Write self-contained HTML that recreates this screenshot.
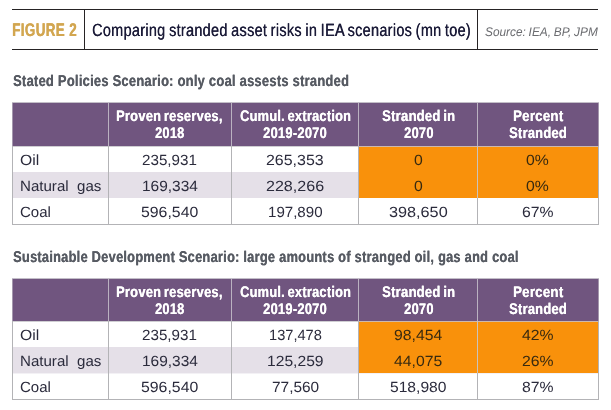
<!DOCTYPE html>
<html><head><meta charset='utf-8'><title>Figure 2</title><style>
html,body{margin:0;padding:0;background:#fff}
body{width:611px;height:410px;position:relative;overflow:hidden;font-family:"Liberation Sans",sans-serif}
.t{position:absolute;white-space:pre;line-height:20px;height:20px;transform-origin:0 0;display:block;text-rendering:geometricPrecision}
.b{position:absolute}
</style></head><body>
<div class='b' style='left:12px;top:9px;width:586px;height:1px;background:#262324'></div>
<div class='b' style='left:12px;top:49px;width:586px;height:1px;background:#262324'></div>
<div class='b' style='left:84px;top:9px;width:1px;height:41px;background:#262324'></div>
<div class='b' style='left:477px;top:9px;width:1px;height:41px;background:#262324'></div>
<div class='b' style='left:12px;top:102px;width:587px;height:123px;background:#b3b3b6'></div>
<div class='b' style='left:13px;top:103px;width:585px;height:121px;background:#fff'></div>
<div class='b' style='left:12px;top:102px;width:587px;height:1px;background:#c3bec8'></div>
<div class='b' style='left:13px;top:103px;width:586px;height:43px;background:#70557f'></div>
<div class='b' style='left:12px;top:103px;width:1px;height:43px;background:#a497ad'></div>
<div class='b' style='left:598px;top:103px;width:1px;height:43px;background:#a497ad'></div>
<div class='b' style='left:13px;top:146px;width:585px;height:1px;background:#cfced2'></div>
<div class='b' style='left:13px;top:172px;width:585px;height:26px;background:#e5e0e8'></div>
<div class='b' style='left:359px;top:146px;width:239px;height:52px;background:#f9910b'></div>
<div class='b' style='left:359px;top:146px;width:239px;height:1px;background:#cdb9ad'></div>
<div class='b' style='left:108px;top:103px;width:1px;height:43px;background:#bbb2c1'></div>
<div class='b' style='left:108px;top:146px;width:1px;height:78px;background:#b3b3b6'></div>
<div class='b' style='left:231px;top:103px;width:1px;height:43px;background:#bbb2c1'></div>
<div class='b' style='left:231px;top:146px;width:1px;height:78px;background:#b3b3b6'></div>
<div class='b' style='left:358px;top:103px;width:1px;height:43px;background:#bbb2c1'></div>
<div class='b' style='left:358px;top:146px;width:1px;height:78px;background:#b3b3b6'></div>
<div class='b' style='left:477px;top:103px;width:1px;height:43px;background:#bbb2c1'></div>
<div class='b' style='left:477px;top:146px;width:1px;height:78px;background:#b3b3b6'></div>
<div class='b' style='left:477px;top:146px;width:1px;height:52px;background:#cbc3bb'></div>
<div class='b' style='left:12px;top:278px;width:587px;height:122px;background:#b3b3b6'></div>
<div class='b' style='left:13px;top:279px;width:585px;height:120px;background:#fff'></div>
<div class='b' style='left:12px;top:278px;width:587px;height:1px;background:#c3bec8'></div>
<div class='b' style='left:13px;top:279px;width:586px;height:42px;background:#70557f'></div>
<div class='b' style='left:12px;top:279px;width:1px;height:42px;background:#a497ad'></div>
<div class='b' style='left:598px;top:279px;width:1px;height:42px;background:#a497ad'></div>
<div class='b' style='left:13px;top:321px;width:585px;height:1px;background:#cfced2'></div>
<div class='b' style='left:13px;top:347px;width:585px;height:26px;background:#e5e0e8'></div>
<div class='b' style='left:13px;top:373px;width:585px;height:1px;background:#f3f1f5'></div>
<div class='b' style='left:359px;top:321px;width:239px;height:52px;background:#f9910b'></div>
<div class='b' style='left:359px;top:321px;width:239px;height:1px;background:#cdb9ad'></div>
<div class='b' style='left:108px;top:279px;width:1px;height:42px;background:#bbb2c1'></div>
<div class='b' style='left:108px;top:321px;width:1px;height:78px;background:#b3b3b6'></div>
<div class='b' style='left:231px;top:279px;width:1px;height:42px;background:#bbb2c1'></div>
<div class='b' style='left:231px;top:321px;width:1px;height:78px;background:#b3b3b6'></div>
<div class='b' style='left:358px;top:279px;width:1px;height:42px;background:#bbb2c1'></div>
<div class='b' style='left:358px;top:321px;width:1px;height:78px;background:#b3b3b6'></div>
<div class='b' style='left:477px;top:279px;width:1px;height:42px;background:#bbb2c1'></div>
<div class='b' style='left:477px;top:321px;width:1px;height:78px;background:#b3b3b6'></div>
<div class='b' style='left:477px;top:321px;width:1px;height:52px;background:#cbc3bb'></div>
<span class='t' style="left:12.27px;top:20.00px;font-size:18.4px;font-weight:700;font-style:normal;color:#d2a650;letter-spacing:0.55px;text-shadow:0.55px 0 0 #d2a650;transform:scaleX(0.7269)">FIGURE 2</span>
<span class='t' style="left:91.58px;top:20.00px;font-size:17.7px;font-weight:400;font-style:normal;color:#1b1b38;letter-spacing:0.35px;text-shadow:0.35px 0 0 #1b1b38;word-spacing:-1.0px;transform:scaleX(0.8187)">Comparing stranded asset risks in IEA scenarios (mn toe)</span>
<span class='t' style="left:484.93px;top:22.00px;font-size:12.5px;font-weight:400;font-style:italic;color:#6b6c70;word-spacing:-0.6px;transform:scaleX(0.9488)">Source: IEA, BP, JPM</span>
<span class='t' style="left:12.88px;top:72.00px;font-size:15.6px;font-weight:700;font-style:normal;color:#575b63;letter-spacing:0.30px;text-shadow:0.30px 0 0 #575b63;transform:scaleX(0.8285)">Stated Policies Scenario: only coal assests stranded</span>
<span class='t' style="left:12.88px;top:248.00px;font-size:15.6px;font-weight:700;font-style:normal;color:#575b63;letter-spacing:0.30px;text-shadow:0.30px 0 0 #575b63;transform:scaleX(0.8234)">Sustainable Development Scenario: large amounts of stranged oil, gas and coal</span>
<span class='t' style="left:115.76px;top:107.00px;font-size:15.4px;font-weight:700;font-style:normal;color:#fff;letter-spacing:0.30px;text-shadow:0.30px 0 0 #fff;word-spacing:-1.5px;transform:scaleX(0.8367)">Proven reserves,</span>
<span class='t' style="left:155.09px;top:124.00px;font-size:15.4px;font-weight:700;font-style:normal;color:#fff;letter-spacing:0.30px;text-shadow:0.30px 0 0 #fff;word-spacing:-1.5px;transform:scaleX(0.8290)">2018</span>
<span class='t' style="left:240.18px;top:107.00px;font-size:15.4px;font-weight:700;font-style:normal;color:#fff;letter-spacing:0.30px;text-shadow:0.30px 0 0 #fff;word-spacing:-1.5px;transform:scaleX(0.8318)">Cumul. extraction</span>
<span class='t' style="left:262.98px;top:124.00px;font-size:15.4px;font-weight:700;font-style:normal;color:#fff;letter-spacing:0.30px;text-shadow:0.30px 0 0 #fff;word-spacing:-1.5px;transform:scaleX(0.8372)">2019-2070</span>
<span class='t' style="left:381.98px;top:107.00px;font-size:15.4px;font-weight:700;font-style:normal;color:#fff;letter-spacing:0.30px;text-shadow:0.30px 0 0 #fff;word-spacing:-1.5px;transform:scaleX(0.8471)">Stranded in</span>
<span class='t' style="left:403.58px;top:124.00px;font-size:15.4px;font-weight:700;font-style:normal;color:#fff;letter-spacing:0.30px;text-shadow:0.30px 0 0 #fff;word-spacing:-1.5px;transform:scaleX(0.8348)">2070</span>
<span class='t' style="left:512.74px;top:107.00px;font-size:15.4px;font-weight:700;font-style:normal;color:#fff;letter-spacing:0.30px;text-shadow:0.30px 0 0 #fff;word-spacing:-1.5px;transform:scaleX(0.8591)">Percent</span>
<span class='t' style="left:509.18px;top:124.00px;font-size:15.4px;font-weight:700;font-style:normal;color:#fff;letter-spacing:0.30px;text-shadow:0.30px 0 0 #fff;word-spacing:-1.5px;transform:scaleX(0.8384)">Stranded</span>
<span class='t' style="left:20.27px;top:151.00px;font-size:14.8px;font-weight:400;font-style:normal;color:#2b2b3c;transform:scaleX(1.0627)">Oil</span>
<span class='t' style="left:141.59px;top:151.00px;font-size:14.8px;font-weight:400;font-style:normal;color:#2b2b3c;transform:scaleX(1.0267)">235,931</span>
<span class='t' style="left:265.86px;top:151.00px;font-size:14.8px;font-weight:400;font-style:normal;color:#2b2b3c;transform:scaleX(1.0781)">265,353</span>
<span class='t' style="left:413.92px;top:151.00px;font-size:14.8px;font-weight:400;font-style:normal;color:#382a10;transform:scaleX(1.0650)">0</span>
<span class='t' style="left:526.11px;top:151.00px;font-size:14.8px;font-weight:400;font-style:normal;color:#382a10;transform:scaleX(1.0650)">0%</span>
<span class='t' style="left:19.78px;top:177.00px;font-size:14.8px;font-weight:400;font-style:normal;color:#2b2b3c;transform:scaleX(1.0198)">Natural  gas</span>
<span class='t' style="left:142.26px;top:177.00px;font-size:14.8px;font-weight:400;font-style:normal;color:#2b2b3c;transform:scaleX(1.0450)">169,334</span>
<span class='t' style="left:265.86px;top:177.00px;font-size:14.8px;font-weight:400;font-style:normal;color:#2b2b3c;transform:scaleX(1.0857)">228,266</span>
<span class='t' style="left:413.92px;top:177.00px;font-size:14.8px;font-weight:400;font-style:normal;color:#382a10;transform:scaleX(1.0650)">0</span>
<span class='t' style="left:526.11px;top:177.00px;font-size:14.8px;font-weight:400;font-style:normal;color:#382a10;transform:scaleX(1.0650)">0%</span>
<span class='t' style="left:20.04px;top:203.00px;font-size:14.8px;font-weight:400;font-style:normal;color:#2b2b3c;transform:scaleX(1.0157)">Coal</span>
<span class='t' style="left:141.46px;top:203.00px;font-size:14.8px;font-weight:400;font-style:normal;color:#2b2b3c;transform:scaleX(1.0705)">596,540</span>
<span class='t' style="left:267.98px;top:203.00px;font-size:14.8px;font-weight:400;font-style:normal;color:#2b2b3c;transform:scaleX(1.0192)">197,890</span>
<span class='t' style="left:388.85px;top:203.00px;font-size:14.8px;font-weight:400;font-style:normal;color:#2b2b3c;transform:scaleX(1.0971)">398,650</span>
<span class='t' style="left:521.72px;top:203.00px;font-size:14.8px;font-weight:400;font-style:normal;color:#2b2b3c;transform:scaleX(1.0650)">67%</span>
<span class='t' style="left:115.76px;top:283.00px;font-size:15.4px;font-weight:700;font-style:normal;color:#fff;letter-spacing:0.30px;text-shadow:0.30px 0 0 #fff;word-spacing:-1.5px;transform:scaleX(0.8367)">Proven reserves,</span>
<span class='t' style="left:155.09px;top:300.00px;font-size:15.4px;font-weight:700;font-style:normal;color:#fff;letter-spacing:0.30px;text-shadow:0.30px 0 0 #fff;word-spacing:-1.5px;transform:scaleX(0.8290)">2018</span>
<span class='t' style="left:240.18px;top:283.00px;font-size:15.4px;font-weight:700;font-style:normal;color:#fff;letter-spacing:0.30px;text-shadow:0.30px 0 0 #fff;word-spacing:-1.5px;transform:scaleX(0.8318)">Cumul. extraction</span>
<span class='t' style="left:262.98px;top:300.00px;font-size:15.4px;font-weight:700;font-style:normal;color:#fff;letter-spacing:0.30px;text-shadow:0.30px 0 0 #fff;word-spacing:-1.5px;transform:scaleX(0.8372)">2019-2070</span>
<span class='t' style="left:381.98px;top:283.00px;font-size:15.4px;font-weight:700;font-style:normal;color:#fff;letter-spacing:0.30px;text-shadow:0.30px 0 0 #fff;word-spacing:-1.5px;transform:scaleX(0.8471)">Stranded in</span>
<span class='t' style="left:403.58px;top:300.00px;font-size:15.4px;font-weight:700;font-style:normal;color:#fff;letter-spacing:0.30px;text-shadow:0.30px 0 0 #fff;word-spacing:-1.5px;transform:scaleX(0.8348)">2070</span>
<span class='t' style="left:512.74px;top:283.00px;font-size:15.4px;font-weight:700;font-style:normal;color:#fff;letter-spacing:0.30px;text-shadow:0.30px 0 0 #fff;word-spacing:-1.5px;transform:scaleX(0.8591)">Percent</span>
<span class='t' style="left:509.18px;top:300.00px;font-size:15.4px;font-weight:700;font-style:normal;color:#fff;letter-spacing:0.30px;text-shadow:0.30px 0 0 #fff;word-spacing:-1.5px;transform:scaleX(0.8384)">Stranded</span>
<span class='t' style="left:20.27px;top:326.00px;font-size:14.8px;font-weight:400;font-style:normal;color:#2b2b3c;transform:scaleX(1.0627)">Oil</span>
<span class='t' style="left:141.59px;top:326.00px;font-size:14.8px;font-weight:400;font-style:normal;color:#2b2b3c;transform:scaleX(1.0267)">235,931</span>
<span class='t' style="left:268.61px;top:326.00px;font-size:14.8px;font-weight:400;font-style:normal;color:#2b2b3c;transform:scaleX(0.9885)">137,478</span>
<span class='t' style="left:394.07px;top:326.00px;font-size:14.8px;font-weight:400;font-style:normal;color:#382a10;transform:scaleX(1.0652)">98,454</span>
<span class='t' style="left:521.72px;top:326.00px;font-size:14.8px;font-weight:400;font-style:normal;color:#382a10;transform:scaleX(1.0650)">42%</span>
<span class='t' style="left:19.78px;top:352.00px;font-size:14.8px;font-weight:400;font-style:normal;color:#2b2b3c;transform:scaleX(1.0198)">Natural  gas</span>
<span class='t' style="left:142.26px;top:352.00px;font-size:14.8px;font-weight:400;font-style:normal;color:#2b2b3c;transform:scaleX(1.0450)">169,334</span>
<span class='t' style="left:266.94px;top:352.00px;font-size:14.8px;font-weight:400;font-style:normal;color:#2b2b3c;transform:scaleX(1.0577)">125,259</span>
<span class='t' style="left:394.33px;top:352.00px;font-size:14.8px;font-weight:400;font-style:normal;color:#382a10;transform:scaleX(1.0652)">44,075</span>
<span class='t' style="left:521.72px;top:352.00px;font-size:14.8px;font-weight:400;font-style:normal;color:#382a10;transform:scaleX(1.0650)">26%</span>
<span class='t' style="left:20.04px;top:378.00px;font-size:14.8px;font-weight:400;font-style:normal;color:#2b2b3c;transform:scaleX(1.0157)">Coal</span>
<span class='t' style="left:141.46px;top:378.00px;font-size:14.8px;font-weight:400;font-style:normal;color:#2b2b3c;transform:scaleX(1.0705)">596,540</span>
<span class='t' style="left:271.82px;top:378.00px;font-size:14.8px;font-weight:400;font-style:normal;color:#2b2b3c;transform:scaleX(1.0409)">77,560</span>
<span class='t' style="left:390.47px;top:378.00px;font-size:14.8px;font-weight:400;font-style:normal;color:#2b2b3c;transform:scaleX(1.0552)">518,980</span>
<span class='t' style="left:521.72px;top:378.00px;font-size:14.8px;font-weight:400;font-style:normal;color:#2b2b3c;transform:scaleX(1.0650)">87%</span>
</body></html>
